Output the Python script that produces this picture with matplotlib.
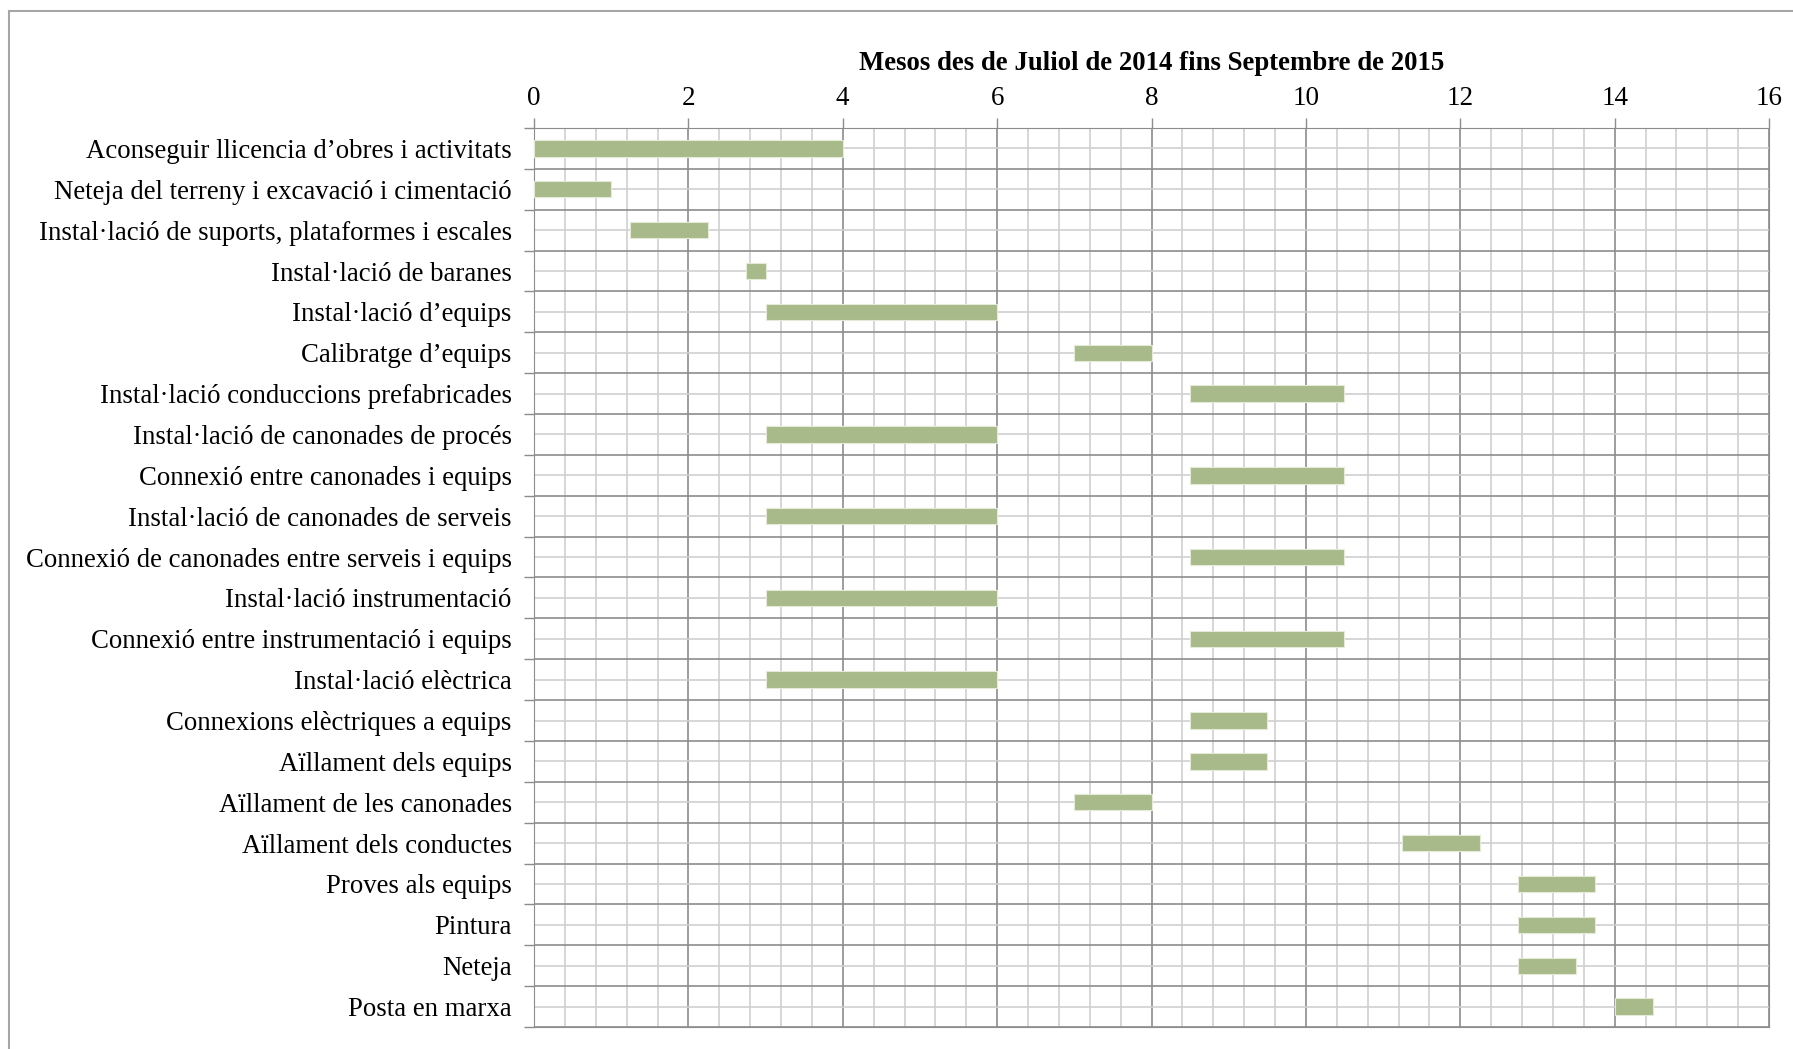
import matplotlib
matplotlib.use("Agg")
import matplotlib.pyplot as plt
from matplotlib.patches import Rectangle
from matplotlib.ticker import MultipleLocator, FixedLocator
import numpy as np

tasks = [
    "Aconseguir llicencia d\u2019obres i activitats",
    "Neteja del terreny i excavació i cimentació",
    "Instal·lació de suports, plataformes i escales",
    "Instal·lació de baranes",
    "Instal·lació d\u2019equips",
    "Calibratge d\u2019equips",
    "Instal·lació conduccions prefabricades",
    "Instal·lació de canonades de procés",
    "Connexió entre canonades i equips",
    "Instal·lació de canonades de serveis",
    "Connexió de canonades entre serveis i equips",
    "Instal·lació instrumentació",
    "Connexió entre instrumentació i equips",
    "Instal·lació elèctrica",
    "Connexions elèctriques a equips",
    "Aïllament dels equips",
    "Aïllament de les canonades",
    "Aïllament dels conductes",
    "Proves als equips",
    "Pintura",
    "Neteja",
    "Posta en marxa",
]
start = [0, 0, 1.25, 2.75, 3, 7, 8.5, 3, 8.5, 3, 8.5, 3, 8.5, 3, 8.5, 8.5, 7, 11.25, 12.75, 12.75, 12.75, 14]
duration = [4, 1, 1.0, 0.25, 3, 1, 2.0, 3, 2.0, 3, 2.0, 3, 2.0, 3, 1.0, 1.0, 1, 1.0, 1.0, 1.0, 0.75, 0.5]
title = "Mesos des de Juliol de 2014 fins Septembre de 2015"

plt.rcParams['font.family'] = ['Liberation Serif', 'DejaVu Serif']

W, H = 1793, 1049
fig = plt.figure(figsize=(W / 100, H / 100), dpi=100)
ax = fig.add_axes([534 / W, 1 - 1027 / H, (1769 - 534) / W, (1027 - 128) / H])

n = len(tasks)
y = np.arange(n)
ax.barh(y, duration, left=start, height=0.4, color="#A8B98A",
        edgecolor="#E4EAD8", linewidth=0.8, zorder=3)

ax.set_xlim(0, 16)
ax.set_ylim(n - 0.5, -0.5)

ax.xaxis.set_major_locator(MultipleLocator(2))
ax.xaxis.set_minor_locator(MultipleLocator(0.4))
ax.xaxis.tick_top()
ax.tick_params(axis='x', which='major', direction='out', length=7, width=1,
               color='#8C8C8C', labelsize=19.5, pad=5)
ax.tick_params(axis='x', which='minor', length=0)
ax.set_xlabel(title, fontsize=19.3, fontweight='bold', labelpad=12)
ax.xaxis.set_label_position('top')

ax.yaxis.set_major_locator(FixedLocator(np.arange(-0.5, n, 1)))
ax.yaxis.set_minor_locator(FixedLocator(y))
ax.set_yticklabels([], minor=False)
ax.set_yticklabels(tasks, minor=True)
ax.tick_params(axis='y', which='major', direction='out', length=7, width=1,
               color='#8C8C8C')
ax.tick_params(axis='y', which='minor', length=0, labelsize=19.3, pad=16)

ax.grid(which='major', axis='both', color='#8C8C8C', linewidth=1.2, zorder=1)
ax.grid(which='minor', axis='both', color='#CFCFCF', linewidth=1.2, zorder=0)
ax.set_axisbelow(True)
for s in ax.spines.values():
    s.set_visible(True)
    s.set_color('#8C8C8C')

# outer border of the chart area
fig.patches.append(Rectangle((9 / W, -0.01), 1.0, 1 - 11 / H + 0.01,
                             transform=fig.transFigure, fill=False,
                             edgecolor='#A6A6A6', linewidth=1.5))

fig.savefig("out.png", dpi=100)
